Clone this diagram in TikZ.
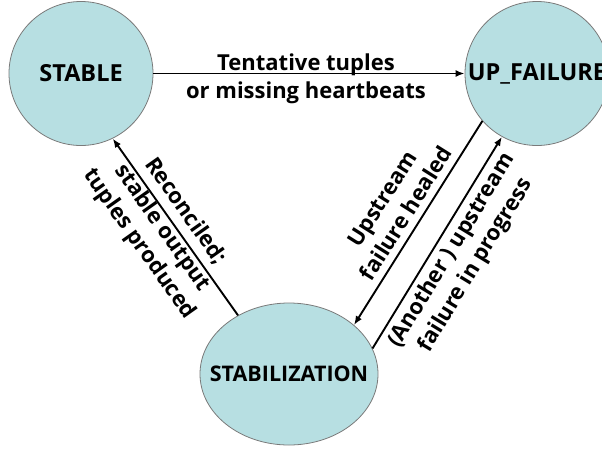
\documentclass[tikz,border=0pt]{standalone}
\usepackage{fontspec}
\setmainfont{Open Sans}
\usetikzlibrary{arrows.meta,shapes.geometric}
\definecolor{statefill}{HTML}{B7DFE2}
\definecolor{stateline}{HTML}{7A7A7A}
\begin{document}
\begin{tikzpicture}[x=1pt,y=-1pt,
 state/.style={circle, draw=stateline, line width=0.8pt, fill=statefill, minimum size=144pt, inner sep=0pt, font=\fontsize{23.5}{28}\selectfont\bfseries},
 statee/.style={ellipse, draw=stateline, line width=0.8pt, fill=statefill, minimum width=178pt, minimum height=142pt, inner sep=0pt, font=\fontsize{21.5}{28}\selectfont\bfseries},
 trans/.style={draw=black, line width=1.9pt, -{Latex[length=9pt,width=7pt]}},
 tlabel/.style={font=\fontsize{22}{28}\selectfont\bfseries, align=center, inner sep=0pt}
]
\useasboundingbox (0,0) rectangle (602,448);
\node[state] (stable) at (81,73.5) {STABLE};
\node[state] (up) at (537,73.5) {UP\_FAILURE};
\node[statee] (stabz) at (289,374) {\makebox[0pt]{STABILIZATION}};
\draw[trans] (stable.east) -- (up.west);
\draw[trans] (stabz.131) -- (stable.-64);
\draw[trans] (up.221.6) -- (stabz.37);
\draw[trans] (stabz.17) -- (up.241.6);
\node[tlabel] (ltop) at (306,79) {Tentative tuples\\or missing heartbeats};
\node[tlabel, rotate=-54.8] (lrec) at (162,228) {Reconciled;\\stable output\\tuples produced};
\node[tlabel, rotate=57.8] (lheal) at (394,206) {Upstream\\failure healed};
\node[tlabel, rotate=58.7] (lprog) at (464,258) {(Another ) upstream\\failure in progress};
\end{tikzpicture}
\end{document}
